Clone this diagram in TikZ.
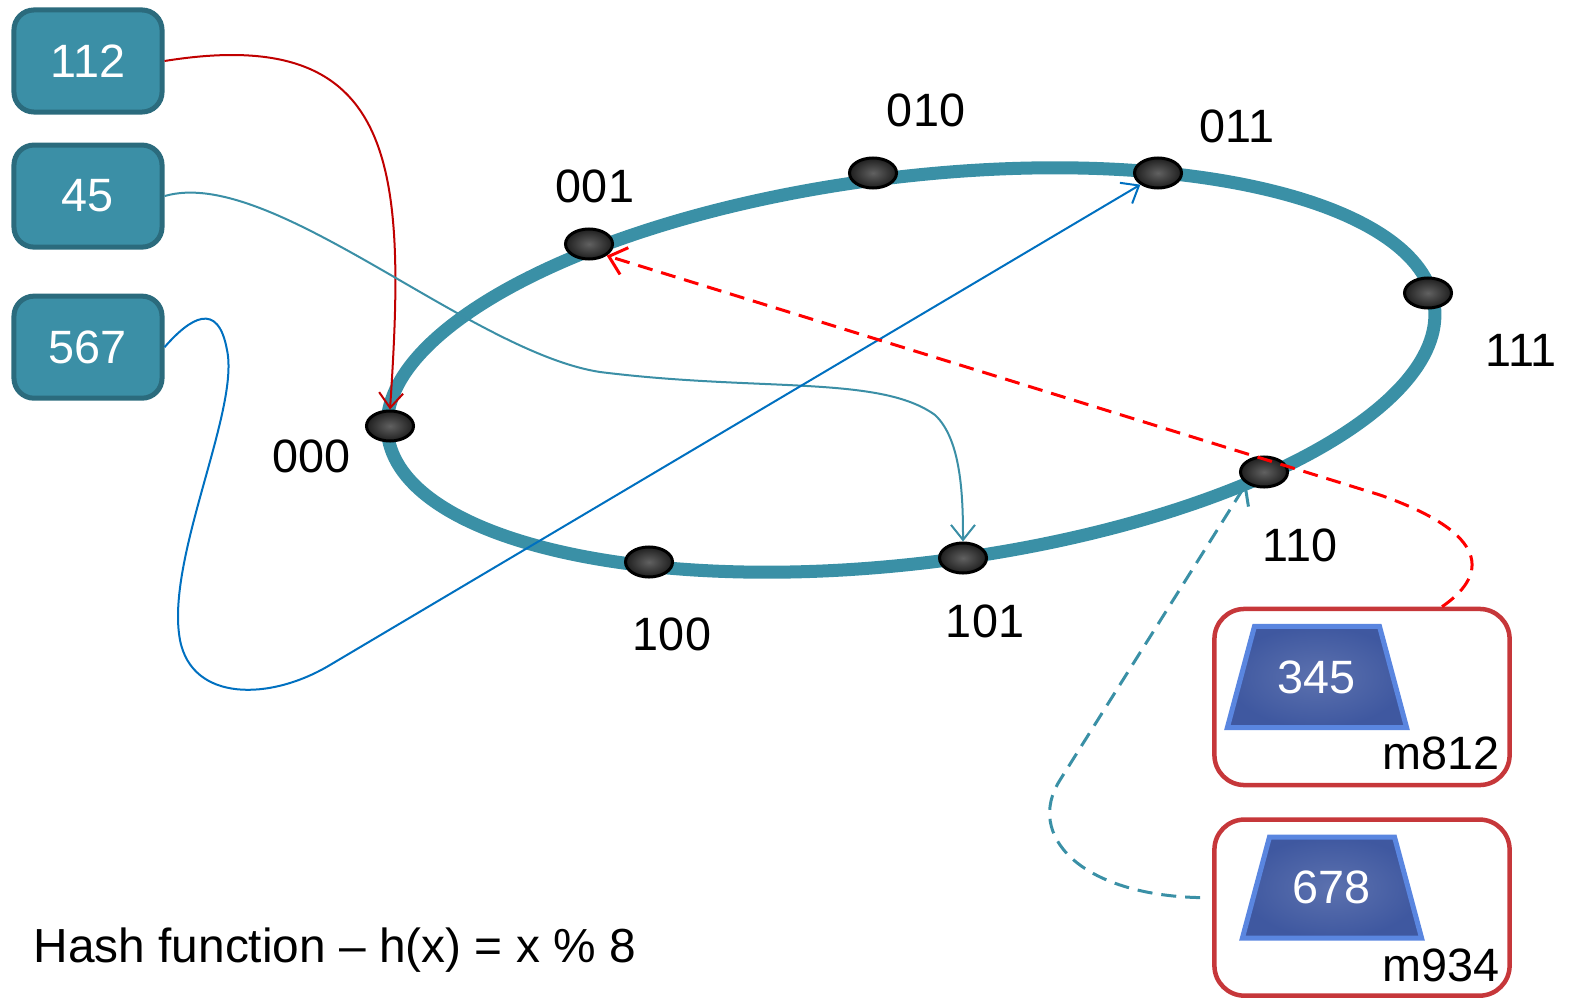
\documentclass[tikz,border=0pt]{standalone}
\usepackage{fontspec}
\setmainfont{Liberation Sans}
\usetikzlibrary{positioning,arrows.meta,shapes.geometric}
\definecolor{ringteal}{HTML}{3A90A6}
\definecolor{boxteal}{HTML}{3B8FA6}
\definecolor{boxedge}{HTML}{2B6B7D}
\definecolor{keyred}{HTML}{C00000}
\definecolor{keyblue}{HTML}{0070C0}
\definecolor{hashred}{HTML}{FF0000}
\definecolor{machred}{HTML}{C6373A}
\definecolor{diskblue}{HTML}{3F58A0}
\definecolor{diskedge}{HTML}{5A86E0}

\begin{document}
\begin{tikzpicture}[x=0.01cm, y=-0.01cm, font=\fontsize{13.3}{16}\selectfont]
    \tikzstyle{ring}=[draw=ringteal, line width=0.13cm]
    \tikzstyle{keybox}=[draw=boxedge, line width=0.05cm, fill=boxteal, rounded corners=0.2cm,
                        minimum width=1.48cm, minimum height=1.02cm, text=white]
    \tikzstyle{dot}=[ellipse, draw=black, line width=0.03cm, inner color=black!62, outer color=black!88,
                     minimum width=0.47cm, minimum height=0.30cm, inner sep=0pt]
    \tikzstyle{ringlbl}=[inner sep=0pt]
    \tikzstyle{machine}=[draw=machred, line width=0.045cm, rounded corners=0.3cm,
                         minimum width=2.95cm, minimum height=1.76cm]
    \tikzstyle{disk}=[trapezium, trapezium left angle=75, trapezium right angle=75,
                      inner xsep=0.235cm, inner ysep=0.34cm, draw=diskedge, line width=0.05cm,
                      inner color=diskblue!85!white, outer color=diskblue, text=white]
    \tikzstyle{link}=[line width=0.02cm, -{Straight Barb[length=1.5mm,width=2.4mm]}]
    \tikzstyle{replica}=[line width=0.03cm, dash pattern=on 0.15cm off 0.09cm,
                         -{Straight Barb[length=1.6mm,width=2.8mm]}]

    \useasboundingbox (0,0) rectangle (1570,997);

    \draw[ring, rotate around={7:(911,370)}] (911,370) ellipse [x radius=5.27cm, y radius=1.93cm];

    \node[dot] (d000) at (390,426) {};
    \node[dot] (d001) at (589,244) {};
    \node[dot] (d010) at (873,173) {};
    \node[dot] (d011) at (1158,173) {};
    \node[dot] (d111) at (1428,293) {};
    \node[dot] (d110) at (1264,472) {};
    \node[dot] (d101) at (963,558) {};
    \node[dot] (d100) at (649,562) {};

    \node[ringlbl] (l000) at (312,456) {000};
    \node[ringlbl] (l001) at (595,186) {001};
    \node[ringlbl] (l010) at (926,110) {010};
    \node[ringlbl] (l011) at (1237,126) {011};
    \node[ringlbl] (l111) at (1521,350) {111};
    \node[ringlbl] (l110) at (1300,545) {110};
    \node[ringlbl] (l101) at (985,621) {101};
    \node[ringlbl] (l100) at (672,634) {100};

    \node[keybox] (k112) at (88,61) {112};
    \node[keybox, below=0.28cm of k112] (k45) {45};
    \node[keybox, below=0.44cm of k45] (k567) {567};

    \node[machine] (m812) at (1362,697) {};
    \node[machine, below=0.3cm of m812] (m934) {};
    \node[disk] (v345) at ([xshift=-0.45cm, yshift=0.20cm]m812.center) {345};
    \node[disk] (v678) at ([xshift=-0.30cm, yshift=0.20cm]m934.center) {678};
    \node[ringlbl, anchor=base east] (n812) at ([xshift=-0.12cm, yshift=0.18cm]m812.south east) {m812};
    \node[ringlbl, anchor=base east] (n934) at ([xshift=-0.12cm, yshift=0.16cm]m934.south east) {m934};

    \node[ringlbl, anchor=west, font=\fontsize{13.6}{16}\selectfont] (hashfn) at (33,950)
        {Hash function – h(x) = x \% 8};

    \draw[link, draw=keyred] (k112.east) .. controls (400,23) and (406,169) .. (d000.north);
    \draw[link, draw=boxteal] (k45.east) .. controls (270,165) and (470,352) .. (600,372)
        .. controls (760,392) and (880,375) .. (935,415)
        .. controls (962,440) and (963,500) .. (d101.north);
    \draw[link, draw=keyblue] (k567.east) .. controls (190,318) and (218,300) .. (227,350)
        .. controls (240,410) and (165,560) .. (180,640)
        .. controls (192,702) and (270,701) .. (330,665) -- (d011.south west);
    \draw[replica, draw=hashred] ([xshift=0.8cm]m812.north) .. controls (1495,570) and (1480,530) .. (1380,495)
        -- (d001.south east);
    \draw[replica, draw=ringteal] ([xshift=-0.12cm, yshift=0.1cm]m934.west) .. controls (1080,895) and (1025,835) .. (1060,780)
        -- (d110.south west);
\end{tikzpicture}
\end{document}
